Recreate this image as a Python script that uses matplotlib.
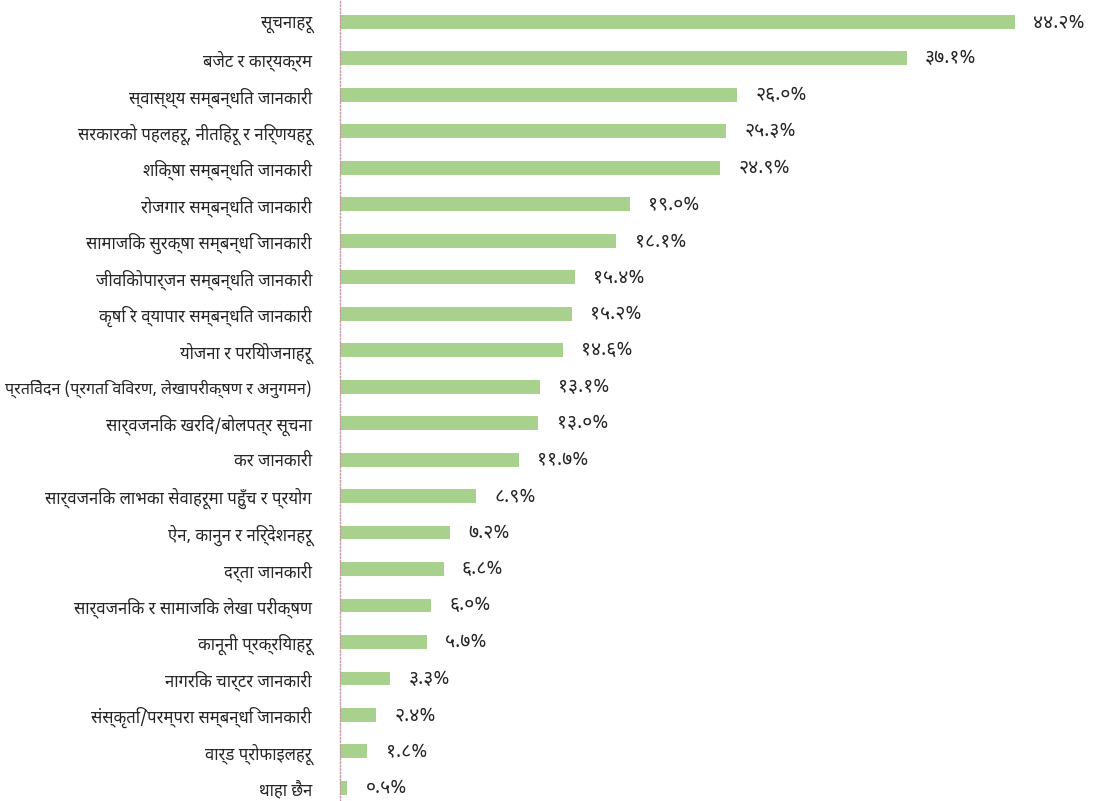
import os
import matplotlib
matplotlib.use("Agg")
import matplotlib.pyplot as plt
from matplotlib import font_manager

categories = [
    "सूचनाहरू",
    "बजेट र कार्यक्रम",
    "स्वास्थ्य सम्बन्धित जानकारी",
    "सरकारको पहलहरू, नीतिहरू र निर्णयहरू",
    "शिक्षा सम्बन्धित जानकारी",
    "रोजगार सम्बन्धित जानकारी",
    "सामाजिक सुरक्षा सम्बन्धि जानकारी",
    "जीविकोपार्जन सम्बन्धित जानकारी",
    "कृषि र व्यापार सम्बन्धित जानकारी",
    "योजना र परियोजनाहरू",
    "प्रतिवेदन (प्रगति विवरण, लेखापरीक्षण र अनुगमन)",
    "सार्वजनिक खरिद/बोलपत्र सूचना",
    "कर जानकारी",
    "सार्वजनिक लाभका सेवाहरूमा पहुँच र प्रयोग",
    "ऐन, कानुन र निर्देशनहरू",
    "दर्ता जानकारी",
    "सार्वजनिक र सामाजिक लेखा परीक्षण",
    "कानूनी प्रक्रियाहरू",
    "नागरिक चार्टर जानकारी",
    "संस्कृति/परम्परा सम्बन्धि जानकारी",
    "वार्ड प्रोफाइलहरू",
    "थाहा छैन",
]
values = [44.2, 37.1, 26.0, 25.3, 24.9, 19.0, 18.1, 15.4, 15.2, 14.6, 13.1,
          13.0, 11.7, 8.9, 7.2, 6.8, 6.0, 5.7, 3.3, 2.4, 1.8, 0.5]

# pick a regular-weight Devanagari font from what is installed
paths = font_manager.findSystemFonts()
wanted = ["NotoSansDevanagari-Regular", "NotoSansDevanagari[", "Hind-Regular",
          "Mukta-Regular", "Khula-Regular", "Amiko-Regular"]
deva_path = None
for w in wanted:
    for p in paths:
        if os.path.basename(p).startswith(w):
            deva_path = p
            break
    if deva_path:
        break

families = ["DejaVu Sans"]
if deva_path:
    font_manager.fontManager.addfont(deva_path)
    families = [font_manager.FontProperties(fname=deva_path).get_name(), "DejaVu Sans"]
plt.rcParams["font.family"] = families

deva_digits = str.maketrans("0123456789", "०१२३४५६७८९")

fig = plt.figure(figsize=(10.96, 8.01), dpi=100)
ax = fig.add_axes([0.310, 0.0, 0.690, 1.0])

ypos = list(range(len(categories)))
ax.barh(ypos, values, height=0.38, color="#a9d18e")

for y, v in zip(ypos, values):
    ax.text(v + 1.2, y, f"{v:.1f}%".translate(deva_digits), va="center",
            ha="left", fontsize=14, color="#262626")

ax.set_yticks(ypos)
ax.set_yticklabels(categories, fontsize=12, color="#262626")
ax.tick_params(axis="y", length=0, pad=20)
ax.set_xticks([])
ax.set_xlim(0, 49.5)
ax.set_ylim(21.36, -0.6)

for s in ["top", "right", "bottom"]:
    ax.spines[s].set_visible(False)
ax.spines["left"].set_linestyle((0, (1, 1.5)))
ax.spines["left"].set_color("#c49aa6")
ax.spines["left"].set_linewidth(1)

# shrink any label that would run off the left edge
fig.canvas.draw()
r = fig.canvas.get_renderer()
for lab in ax.get_yticklabels():
    bb = lab.get_window_extent(r)
    if bb.x0 < 4:
        avail = bb.x1 - 4
        lab.set_fontsize(12 * avail / bb.width)

fig.savefig("out.png", dpi=100)
